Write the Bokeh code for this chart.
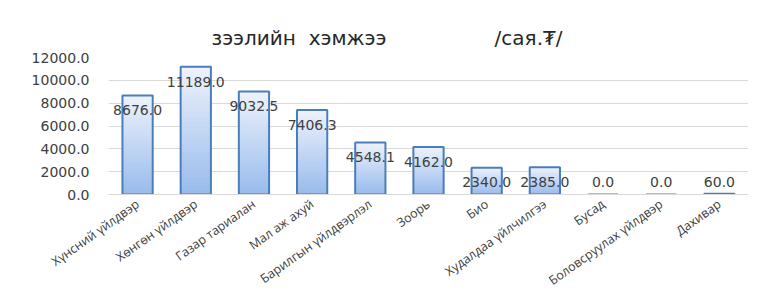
import numpy as np
from bokeh.plotting import figure
from bokeh.models import FixedTicker, NumeralTickFormatter, ColumnDataSource
from bokeh.core.properties import value
from bokeh.embed import file_html
from bokeh.resources import INLINE

categories = ["Хүнсний үйлдвэр", "Хөнгөн үйлдвэр", "Газар тариалан", "Мал аж ахуй",
              "Барилгын үйлдвэрлэл", "Зоорь", "Био", "Худалдаа үйлчилгээ", "Бусад",
              "Боловсруулах үйлдвэр", "Дахивар"]
values = [8676.0, 11189.0, 9032.5, 7406.3, 4548.1, 4162.0, 2340.0, 2385.0, 0.0, 0.0, 60.0]
value_labels = ["8676.0", "11189.0", "9032.5", "7406.3", "4548.1", "4162.0", "2340.0",
                "2385.0", "0.0", "0.0", "60.0"]
y_ticks = [0, 2000, 4000, 6000, 8000, 10000, 12000]
NB = "\u00a0"
title_text = "зээлийн" + NB * 2 + "хэмжээ" + NB * 17 + "/сая.₮/"

p = figure(x_range=categories, y_range=(0, 12000), width=765, height=298,
           output_backend="svg", toolbar_location=None,
           min_border_left=108, min_border_right=17, min_border_top=57, min_border_bottom=103)
p.outline_line_color = None
p.background_fill_color = "white"
p.border_fill_color = "white"

vals = np.array(values)
N = 30
top_c = np.array([0xEE, 0xF3, 0xFC])
bot_c = np.array([0x98, 0xBB, 0xEC])
for k in range(N - 1, -1, -1):
    t = (k + 0.5) / N  # 0 bottom -> 1 top
    c = bot_c + (top_c - bot_c) * t
    col = "#%02x%02x%02x" % tuple(int(round(x)) for x in c)
    p.vbar(x=categories, bottom=0, top=vals * (k + 1) / N, width=0.52,
           fill_color=col, line_color=None)
p.vbar(x=categories, top=values, width=0.52, fill_color=None,
       line_color="#4A7EBB", line_width=2)

label_y = np.maximum(vals - 1300, 1130)
src = ColumnDataSource(dict(x=categories, y=label_y, t=value_labels))
p.text(x="x", y="y", text="t", source=src, text_align="center", text_baseline="middle",
       text_font=value("DejaVu Sans"), text_font_size="14px", text_color="#404040")

p.yaxis.ticker = FixedTicker(ticks=y_ticks)
p.yaxis.formatter = NumeralTickFormatter(format="0.0")
p.yaxis.axis_line_color = None
p.yaxis.major_tick_line_color = None
p.yaxis.minor_tick_line_color = None
p.yaxis.major_label_text_font = "DejaVu Sans"
p.yaxis.major_label_text_font_size = "14px"
p.yaxis.major_label_text_color = "#404040"
p.yaxis.major_label_standoff = 13

p.xaxis.axis_line_color = "#d9d9d9"
p.xaxis.major_tick_line_color = None
p.xaxis.minor_tick_line_color = None
p.xaxis.major_label_orientation = 0.62
p.xaxis.major_label_text_font = "Open Sans"
p.xaxis.major_label_text_font_size = "12.5px"
p.xaxis.major_label_text_color = "#404040"
p.xaxis.major_label_standoff = 2

p.xgrid.grid_line_color = None
p.ygrid.grid_line_color = "#d9d9d9"
p.ygrid.ticker = FixedTicker(ticks=y_ticks)

p.title.text = title_text
p.title.align = "left"
p.title.offset = 103
p.title.text_font = "DejaVu Sans"
p.title.text_font_size = "20px"
p.title.text_font_style = "normal"
p.title.text_color = "#262626"
p.title.standoff = 15

open("out.html", "w").write(file_html(p, INLINE))
